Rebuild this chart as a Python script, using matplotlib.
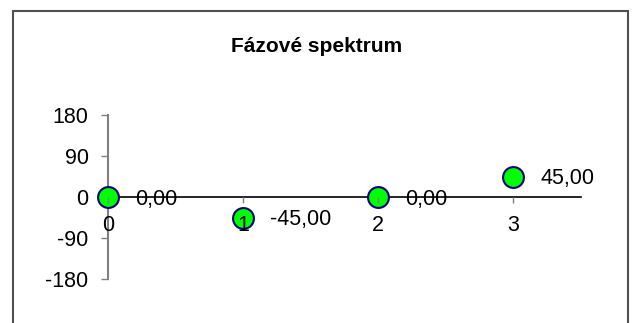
import matplotlib
matplotlib.use("Agg")
import matplotlib.pyplot as plt
from matplotlib.patches import Rectangle

plt.rcParams['font.family'] = ['Liberation Sans', 'DejaVu Sans']
plt.rcParams['axes.unicode_minus'] = False

title = 'Fázové spektrum'
harmonics = [0, 1, 2, 3]
phases = [0.0, -45.0, 0.0, 45.0]
y_ticks = [-180, -90, 0, 90, 180]

fig = plt.figure(figsize=(6.33, 3.23), dpi=100)
ax = fig.add_axes([0.1706, 0.136, 0.747, 0.508])

# outer chart border, bottom edge is off the picture
fig.patches.append(Rectangle((0.0205, -0.2), 0.9715, 1.166, transform=fig.transFigure,
                             fill=False, edgecolor='#505050', linewidth=1.5))

fig.text(0.5, 0.857, title, ha='center', va='center', fontsize=15, fontweight='bold')

ax.scatter(harmonics, phases, s=15 ** 2, facecolor='#00ff00', edgecolor='#000080',
           linewidth=1.5, zorder=3, clip_on=False)

for x, y in zip(harmonics, phases):
    ax.annotate(f'{y:.2f}'.replace('.', ','), (x, y), xytext=(27, -2),
                textcoords='offset pixels', ha='left', va='center', fontsize=15.5, zorder=4)

ax.set_xlim(0, 3.5)
ax.set_ylim(-180, 180)
ax.set_yticks(y_ticks)
ax.set_xticks(harmonics)

for s in ['top', 'right']:
    ax.spines[s].set_visible(False)
ax.spines['bottom'].set_position(('data', 0))
ax.spines['bottom'].set_color('black')
ax.spines['bottom'].set_linewidth(1.2)
ax.spines['left'].set_color('#808080')
ax.spines['left'].set_linewidth(1.5)
for s in ax.spines.values():
    s.set_zorder(1)
# tick labels sit on top of the markers, like in Excel
ax.xaxis.set_zorder(5)
ax.yaxis.set_zorder(1.5)

ax.tick_params(axis='y', direction='out', length=5, width=1, color='#808080', labelsize=15.5, pad=9)
ax.tick_params(axis='x', direction='out', length=4, width=1, color='#808080', labelsize=15.5, pad=9)
ax.patch.set_visible(False)

fig.savefig('out.png', dpi=100)
